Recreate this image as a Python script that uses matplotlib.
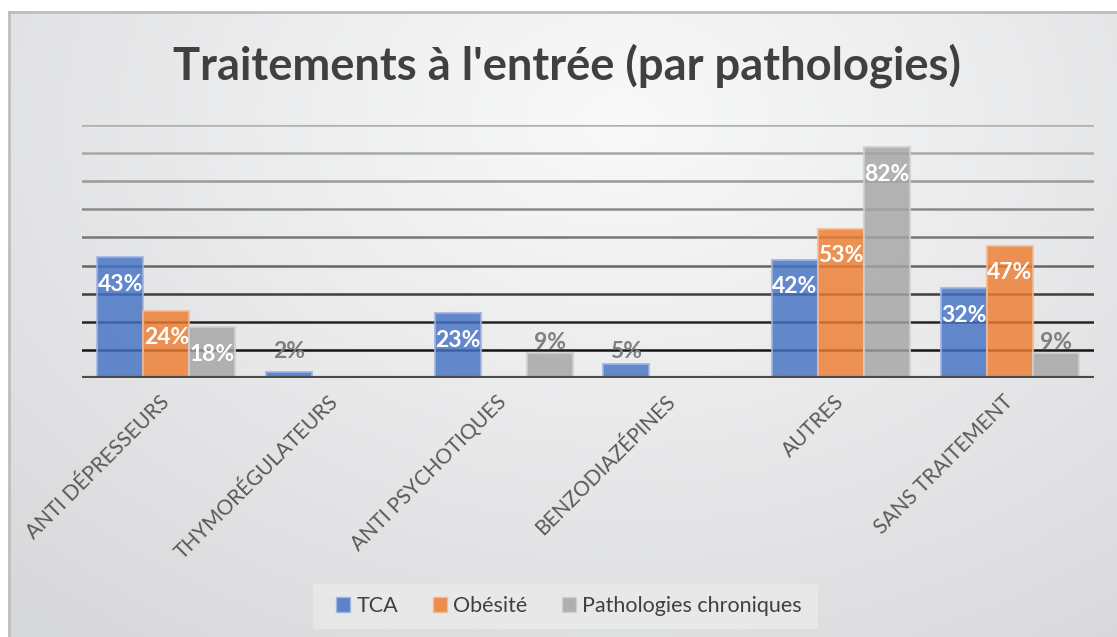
import numpy as np
import matplotlib
matplotlib.use("Agg")
import matplotlib.pyplot as plt
from matplotlib.patches import Rectangle
from matplotlib.lines import Line2D

categories = ["ANTI DÉPRESSEURS", "THYMORÉGULATEURS", "ANTI PSYCHOTIQUES",
              "BENZODIAZÉPINES", "AUTRES", "SANS TRAITEMENT"]
series_names = ["TCA", "Obésité", "Pathologies chroniques"]
tca = [0.43, 0.02, 0.23, 0.05, 0.42, 0.32]
obesite = [0.24, 0.0, 0.0, 0.0, 0.53, 0.47]
chroniques = [0.18, 0.0, 0.09, 0.0, 0.82, 0.09]
title = "Traitements à l'entrée (par pathologies)"

colors = ["#4472C4", "#ED7D31", "#A5A5A5"]
edge_colors = ["#9fb4e0", "#f6b890", "#d0d0d0"]
FONT = ["Lato", "DejaVu Sans"]
plt.rcParams['font.family'] = FONT

W, H = 1117, 637
fig = plt.figure(figsize=(W / 100, H / 100), dpi=100)

# background radial gradient
bg = fig.add_axes([0, 0, 1, 1])
yy, xx = np.mgrid[0:H, 0:W]
cx, cy = 620, 120
r = np.sqrt(((xx - cx) / 900.0) ** 2 + ((yy - cy) / 650.0) ** 2)
r = np.clip(r, 0, 1)
light = np.array([0.975, 0.978, 0.98])
dark = np.array([0.845, 0.848, 0.855])
img = light[None, None, :] * (1 - r[..., None]) + dark[None, None, :] * r[..., None]
img[:12, :, :] = 1.0
img[:, :9, :] = 1.0
bg.imshow(img, extent=[0, W, H, 0], aspect='auto', interpolation='bilinear')
bg.set_xlim(0, W)
bg.set_ylim(H, 0)
bg.axis('off')
bg.add_line(Line2D([9, W], [12, 12], color="#bdbdbd", lw=2))
bg.add_line(Line2D([9, 9], [12, H], color="#bdbdbd", lw=2))
# legend background
bg.add_patch(Rectangle((313, 584), 505, 45, facecolor="#ececec", edgecolor="none", alpha=0.7))

ax = fig.add_axes([82 / W, 1 - 378 / H, (1094 - 82) / W, (378 - 125) / H])
ax.set_facecolor("none")
n = len(categories)
x = np.arange(n)
ax.set_xlim(-0.5, n - 0.5)
ax.set_ylim(0, 0.9)

grid_levels = [0.1, 0.2, 0.3, 0.4, 0.5, 0.6, 0.7, 0.8, 0.9]
grid_colors = ["#151515", "#252525", "#3e3e3e", "#666666", "#777777",
               "#8a8a8a", "#9a9a9a", "#a8a8a8", "#b0b0b0"]
for lvl, gc in zip(grid_levels, grid_colors):
    ax.axhline(lvl, color=gc, lw=1.8, zorder=1)
ax.axhline(0, color="#4a4a4a", lw=3, zorder=4)

bw = 0.273
all_series = [tca, obesite, chroniques]
for i, (vals, c, ec) in enumerate(zip(all_series, colors, edge_colors)):
    xs = x + (i - 1) * bw
    ax.bar(xs, vals, width=bw, color=c, alpha=0.82, edgecolor=ec, linewidth=1.5,
           zorder=2, label=series_names[i])
    for xi, v in zip(xs, vals):
        if v <= 0:
            continue
        txt = f"{round(v * 100):d}%"
        if v >= 0.15:
            ax.text(xi, v - 0.096, txt, ha='center', va='center', color='white',
                    fontsize=16.5, fontweight='bold', zorder=5)
        else:
            ax.text(xi, max(v + 0.035, 0.093), txt, ha='center', va='center',
                    color='#7f7f7f', fontsize=16.5, fontweight='bold', zorder=5)

ax.set_xticks(x)
ax.set_xticklabels(categories, rotation=45, ha='right', va='center',
                   rotation_mode='anchor', fontsize=15, color='#595959')
ax.tick_params(axis='x', length=0, pad=15)
for lbl in ax.get_xticklabels():
    lbl.set_x(lbl.get_position()[0])
ax.set_yticks([])
for s in ax.spines.values():
    s.set_visible(False)

fig.text(567 / W, 1 - 66 / H, title, ha='center', va='center', fontsize=32.7,
         fontweight='bold', color='#404040')

handles = [Rectangle((0, 0), 1, 1, facecolor=c, edgecolor=ec, alpha=0.85, lw=1)
           for c, ec in zip(colors, edge_colors)]
leg = fig.legend(handles, series_names, loc='center', bbox_to_anchor=(569 / W, 1 - 606 / H),
                 ncol=3, frameon=False, fontsize=15.5, handlelength=0.65, handleheight=0.65,
                 handletextpad=0.3, columnspacing=1.6, labelcolor='#404040')

fig.savefig("out.png", dpi=100)
